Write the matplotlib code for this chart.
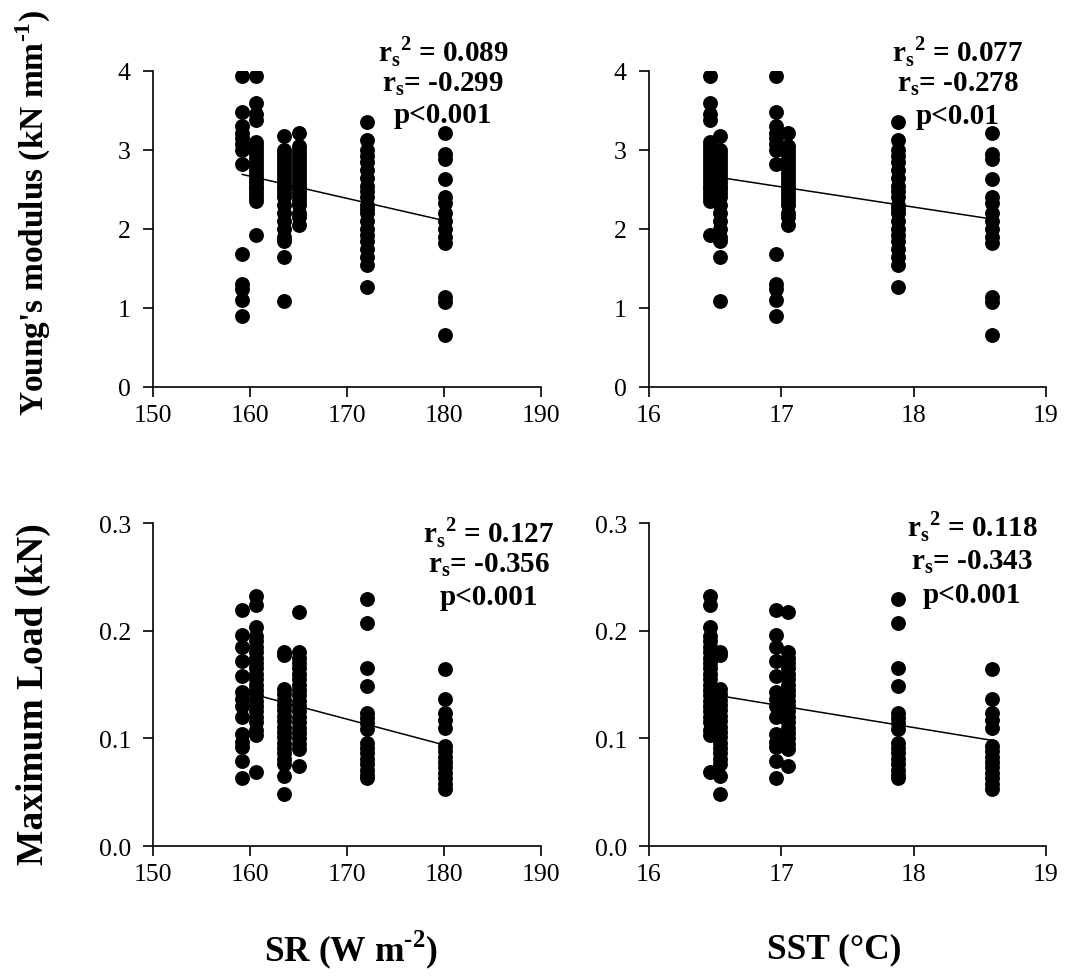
import numpy as np
import matplotlib
matplotlib.use("Agg")
import matplotlib.pyplot as plt

plt.rcParams["font.family"] = ["Liberation Serif", "DejaVu Serif"]
plt.rcParams["mathtext.fontset"] = "custom"
plt.rcParams["mathtext.rm"] = "Liberation Serif:bold"
plt.rcParams["mathtext.bf"] = "Liberation Serif:bold"

# sites: solar radiation (W m-2) and sea surface temperature (°C)
sr = [159.2, 160.6, 163.5, 165.0, 172.1, 180.1]
sst = [16.96, 16.46, 16.54, 17.05, 17.88, 18.59]

# Young's modulus (kN mm-1) per site
ym = [
    [3.94, 3.48, 3.30, 3.22, 3.15, 3.08, 3.00, 2.82, 1.68, 1.30, 1.24, 1.10, 0.90],
    [3.94, 3.60, 3.45, 3.38, 3.10, 3.05, 3.00, 2.95, 2.90, 2.85, 2.80, 2.75, 2.70,
     2.65, 2.60, 2.55, 2.50, 2.45, 2.40, 2.35, 1.92],
    [3.18, 3.00, 2.95, 2.90, 2.85, 2.80, 2.75, 2.70, 2.65, 2.60, 2.55, 2.50, 2.45,
     2.40, 2.30, 2.20, 2.10, 2.00, 1.90, 1.85, 1.65, 1.09],
    [3.22, 3.05, 3.00, 2.95, 2.90, 2.85, 2.80, 2.75, 2.70, 2.65, 2.60, 2.55, 2.50,
     2.45, 2.40, 2.35, 2.30, 2.20, 2.15, 2.05],
    [3.35, 3.12, 3.00, 2.92, 2.85, 2.75, 2.65, 2.55, 2.48, 2.40, 2.30, 2.25, 2.20,
     2.10, 2.00, 1.92, 1.85, 1.75, 1.65, 1.55, 1.26],
    [3.22, 2.95, 2.88, 2.63, 2.40, 2.33, 2.20, 2.10, 2.00, 1.90, 1.82, 1.14, 1.07, 0.66],
]

# Maximum load (kN) per site
ml = [
    [0.219, 0.196, 0.185, 0.172, 0.158, 0.143, 0.137, 0.130, 0.120, 0.104, 0.097,
     0.092, 0.079, 0.063],
    [0.232, 0.224, 0.203, 0.195, 0.190, 0.185, 0.180, 0.175, 0.170, 0.165, 0.160,
     0.155, 0.150, 0.145, 0.140, 0.135, 0.130, 0.125, 0.120, 0.115, 0.108, 0.103, 0.069],
    [0.180, 0.177, 0.146, 0.141, 0.136, 0.131, 0.126, 0.121, 0.116, 0.111, 0.106,
     0.101, 0.096, 0.091, 0.086, 0.081, 0.076, 0.065, 0.048],
    [0.217, 0.180, 0.175, 0.170, 0.165, 0.160, 0.155, 0.150, 0.145, 0.140, 0.135,
     0.130, 0.125, 0.120, 0.115, 0.110, 0.105, 0.100, 0.095, 0.090, 0.074],
    [0.229, 0.207, 0.165, 0.149, 0.124, 0.119, 0.114, 0.109, 0.096, 0.091, 0.086,
     0.081, 0.076, 0.071, 0.066, 0.063],
    [0.164, 0.137, 0.124, 0.117, 0.110, 0.093, 0.088, 0.083, 0.078, 0.073, 0.068,
     0.063, 0.058, 0.053],
]

stats = {
    ("sr", "ym"): ("0.089", "-0.299", "p<0.001"),
    ("sst", "ym"): ("0.077", "-0.278", "p<0.01"),
    ("sr", "ml"): ("0.127", "-0.356", "p<0.001"),
    ("sst", "ml"): ("0.118", "-0.343", "p<0.001"),
}

fig = plt.figure(figsize=(10.68, 9.78), dpi=100)

panels = [
    # key, xs, ys, rect, xlim, xticks, ylim, yticks, fmt, text x, text ys
    (("sr", "ym"), sr, ym, [0.1433, 0.6033, 0.3633, 0.3231], (150, 190), [150, 160, 170, 180, 190],
     (0, 4), [0, 1, 2, 3, 4], "%d", 0.747, [1.063, 0.962, 0.861]),
    (("sst", "ym"), sst, ym, [0.6077, 0.6033, 0.3717, 0.3231], (16, 19), [16, 17, 18, 19],
     (0, 4), [0, 1, 2, 3, 4], "%d", 0.778, [1.063, 0.962, 0.858]),
    (("sr", "ml"), sr, ml, [0.1433, 0.1339, 0.3633, 0.3303], (150, 190), [150, 160, 170, 180, 190],
     (0, 0.3), [0.0, 0.1, 0.2, 0.3], "%.1f", 0.866, [0.972, 0.873, 0.774]),
    (("sst", "ml"), sst, ml, [0.6077, 0.1339, 0.3717, 0.3303], (16, 19), [16, 17, 18, 19],
     (0, 0.3), [0.0, 0.1, 0.2, 0.3], "%.1f", 0.814, [0.991, 0.883, 0.780]),
]

for key, xs, ys, rect, xlim, xticks, ylim, yticks, fmt, tx, tys in panels:
    ax = fig.add_axes(rect)
    xall = np.concatenate([[x] * len(v) for x, v in zip(xs, ys)])
    yall = np.concatenate(ys)
    ax.scatter(xall, yall, s=115, color="black", zorder=3, linewidths=0)
    k, b = np.polyfit(xall, yall, 1)
    xl = np.array([min(xs), max(xs)])
    ax.plot(xl, k * xl + b, color="black", lw=1.1, zorder=4)

    ax.set_xlim(*xlim)
    ax.set_ylim(*ylim)
    ax.set_xticks(xticks)
    ax.set_yticks(yticks)
    ax.yaxis.set_major_formatter(matplotlib.ticker.FormatStrFormatter(fmt))
    for s in ("top", "right"):
        ax.spines[s].set_visible(False)
    for s in ("left", "bottom"):
        ax.spines[s].set_linewidth(1.2)
    ax.tick_params(direction="out", length=7, width=1.2, labelsize=18.5)
    ax.tick_params(axis="y", pad=9)
    ax.tick_params(axis="x", pad=5)

    r2, rs, p = stats[key]
    kw = dict(transform=ax.transAxes, ha="center", va="center",
              fontsize=21, fontweight="bold", clip_on=False)
    ax.text(tx, tys[0], r"r$_\mathbf{s}$$^\mathbf{2}$ = " + r2, **kw)
    ax.text(tx, tys[1], r"r$_\mathbf{s}$= " + rs, **kw)
    ax.text(tx, tys[2], p, **kw)

fig.text(0.031, 1 - 213 / 978, r"Young's modulus (kN mm$^{\text{-1}}$)", rotation=90,
         ha="center", va="center", fontsize=24, fontweight="bold")
fig.text(0.031, 1 - 694 / 978, "Maximum Load (kN)", rotation=90,
         ha="center", va="center", fontsize=27, fontweight="bold")
fig.text(351 / 1068, 1 - 950 / 978, r"SR (W m$^{\text{-2}}$)",
         ha="center", va="center", fontsize=25.5, fontweight="bold")
fig.text(834 / 1068, 1 - 950 / 978, "SST (°C)",
         ha="center", va="center", fontsize=25.5, fontweight="bold")

fig.savefig("out.png", dpi=100, facecolor="white")
